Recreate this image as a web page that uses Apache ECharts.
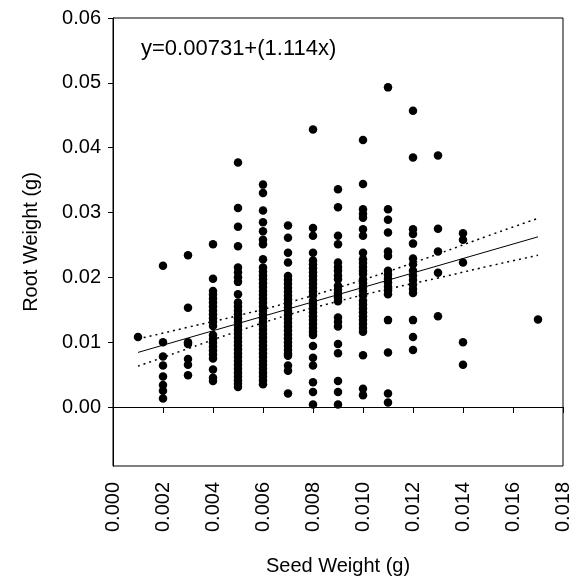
<!DOCTYPE html>
<html>
<head>
<meta charset="utf-8">
<script src="https://cdn.jsdelivr.net/npm/echarts@6/dist/echarts.min.js"></script>
<style>
html,body{margin:0;padding:0;background:#fff;}
#chart{width:576px;height:581px;}
</style>
</head>
<body>
<div id="chart"></div>
<script>
// Seed weight columns (x) and root weights observed (y)
const seedWeights = [0.001, 0.002, 0.003, 0.004, 0.005, 0.006, 0.007, 0.008, 0.009, 0.010, 0.011, 0.012, 0.013, 0.014, 0.017];

const rw001 = [0.0108];
const rw002 = [0.0218, 0.0100, 0.0078, 0.0064, 0.0047, 0.0034, 0.0025, 0.0013];
const rw003 = [0.0234, 0.0153, 0.0100, 0.0097, 0.0074, 0.0065, 0.0049];
const rw004 = [0.0251, 0.0198, 0.0179, 0.0173, 0.0167, 0.0161, 0.0155, 0.0149, 0.0143, 0.0137, 0.0131, 0.0125, 0.0111, 0.0105, 0.0099, 0.0093, 0.0087, 0.0081, 0.0075, 0.0058, 0.0045, 0.0040];
const rw005 = [0.0377, 0.0307, 0.0278, 0.0248, 0.0215, 0.0208, 0.0200, 0.0193, 0.0174, 0.0161, 0.0155, 0.0149, 0.0143, 0.0137, 0.0131, 0.0125, 0.0119, 0.0113, 0.0107, 0.0101, 0.0095, 0.0089, 0.0083, 0.0077, 0.0071, 0.0065, 0.0059, 0.0053, 0.0047, 0.0041, 0.0036, 0.0031];
const rw006 = [0.0343, 0.0330, 0.0303, 0.0285, 0.0271, 0.0258, 0.0251, 0.0228, 0.0215, 0.0209, 0.0203, 0.0197, 0.0191, 0.0185, 0.0179, 0.0173, 0.0167, 0.0161, 0.0155, 0.0149, 0.0143, 0.0137, 0.0131, 0.0125, 0.0119, 0.0113, 0.0107, 0.0101, 0.0095, 0.0089, 0.0083, 0.0077, 0.0071, 0.0065, 0.0059, 0.0053, 0.0047, 0.0041, 0.0035];
const rw007 = [0.0280, 0.0261, 0.0238, 0.0223, 0.0202, 0.0196, 0.0190, 0.0184, 0.0178, 0.0172, 0.0166, 0.0160, 0.0154, 0.0148, 0.0142, 0.0136, 0.0130, 0.0124, 0.0118, 0.0112, 0.0106, 0.0100, 0.0094, 0.0088, 0.0082, 0.0079, 0.0064, 0.0056, 0.0021];
const rw008 = [0.0428, 0.0276, 0.0264, 0.0238, 0.0226, 0.0220, 0.0214, 0.0208, 0.0202, 0.0196, 0.0190, 0.0184, 0.0178, 0.0172, 0.0164, 0.0158, 0.0152, 0.0146, 0.0140, 0.0134, 0.0128, 0.0122, 0.0116, 0.0111, 0.0094, 0.0076, 0.0064, 0.0038, 0.0023, 0.0004];
const rw009 = [0.0336, 0.0308, 0.0264, 0.0251, 0.0223, 0.0216, 0.0210, 0.0203, 0.0197, 0.0187, 0.0181, 0.0175, 0.0169, 0.0163, 0.0138, 0.0131, 0.0124, 0.0097, 0.0083, 0.0040, 0.0023, 0.0004];
const rw010 = [0.0412, 0.0344, 0.0305, 0.0298, 0.0292, 0.0274, 0.0264, 0.0238, 0.0228, 0.0222, 0.0216, 0.0210, 0.0205, 0.0197, 0.0191, 0.0185, 0.0179, 0.0172, 0.0164, 0.0158, 0.0152, 0.0146, 0.0140, 0.0134, 0.0128, 0.0122, 0.0116, 0.0080, 0.0028, 0.0018];
const rw011 = [0.0493, 0.0305, 0.0289, 0.0269, 0.0240, 0.0233, 0.0210, 0.0204, 0.0198, 0.0192, 0.0186, 0.0180, 0.0174, 0.0134, 0.0084, 0.0021, 0.0007];
const rw012 = [0.0457, 0.0385, 0.0274, 0.0267, 0.0252, 0.0229, 0.0220, 0.0210, 0.0203, 0.0196, 0.0189, 0.0182, 0.0176, 0.0134, 0.0108, 0.0088];
const rw013 = [0.0388, 0.0275, 0.0240, 0.0207, 0.0140];
const rw014 = [0.0268, 0.0258, 0.0223, 0.0100, 0.0065];
const rw017 = [0.0135];

const rootWeightColumns = [rw001, rw002, rw003, rw004, rw005, rw006, rw007, rw008, rw009, rw010, rw011, rw012, rw013, rw014, rw017];

// Regression line y = 0.00731 + 1.114x, and its confidence band
const fitX = [0.001, 0.017];
const fitY = [0.00842, 0.02625];
const bandX = [0.001, 0.003, 0.005, 0.007, 0.009, 0.011, 0.013, 0.015, 0.017];
const bandUpper = [0.0105, 0.0123, 0.0141, 0.0161, 0.0184, 0.0209, 0.0236, 0.0264, 0.0291];
const bandLower = [0.0063, 0.0090, 0.0117, 0.0142, 0.0163, 0.0182, 0.0199, 0.0217, 0.0234];

const yTickValues = [0, 0.01, 0.02, 0.03, 0.04, 0.05, 0.06];
const equationText = 'y=0.00731+(1.114x)';

const scatterData = [];
seedWeights.forEach((x, i) => rootWeightColumns[i].forEach(y => scatterData.push([x, y])));
const zip = (a, b) => a.map((v, i) => [v, b[i]]);

const FONT = '"Liberation Sans", Arial, sans-serif';
const chart = echarts.init(document.getElementById('chart'), null, {renderer: 'canvas'});
chart.setOption({
  animation: false,
  backgroundColor: '#fff',
  grid: {left: 113, right: 13, top: 18, bottom: 114, show: true, borderColor: '#000', borderWidth: 1, backgroundColor: 'transparent'},
  xAxis: {
    type: 'value', min: 0, max: 0.018, interval: 0.002,
    name: 'Seed Weight (g)', nameLocation: 'middle', nameGap: 90,
    nameTextStyle: {color: '#000', fontSize: 20, fontFamily: FONT},
    axisLine: {show: true, lineStyle: {color: '#000', width: 1}},
    axisTick: {show: true, inside: false, length: 6, lineStyle: {color: '#000'}},
    axisLabel: {rotate: 90, margin: 16, color: '#000', fontSize: 20, fontFamily: FONT, formatter: v => v.toFixed(3)},
    splitLine: {show: false}
  },
  yAxis: {
    type: 'value', min: -0.0091, max: 0.06,
    name: 'Root Weight (g)', nameLocation: 'middle', nameGap: 72, nameRotate: 90,
    nameTextStyle: {color: '#000', fontSize: 20, fontFamily: FONT},
    axisLine: {show: true, lineStyle: {color: '#000', width: 1}},
    axisTick: {show: true, inside: false, length: 5, lineStyle: {color: '#000'}, customValues: yTickValues},
    axisLabel: {margin: 12, color: '#000', fontSize: 20, fontFamily: FONT, customValues: yTickValues, formatter: v => v.toFixed(2)},
    splitLine: {show: false}
  },
  graphic: [{
    type: 'text', left: 141, top: 38,
    style: {text: equationText, fill: '#000', font: '22px "Liberation Sans", Arial, sans-serif'}
  }],
  series: [
    {type: 'scatter', data: scatterData, symbol: 'circle', symbolSize: 8.5, itemStyle: {color: '#000', opacity: 1}, z: 3},
    {type: 'line', data: zip(fitX, fitY), showSymbol: false, lineStyle: {color: '#000', width: 1}, z: 4},
    {type: 'line', data: zip(bandX, bandUpper), smooth: true, showSymbol: false, lineStyle: {color: '#000', width: 1.5, type: [2, 4]}, z: 4},
    {type: 'line', data: zip(bandX, bandLower), smooth: true, showSymbol: false, lineStyle: {color: '#000', width: 1.5, type: [2, 4]}, z: 4}
  ]
});
</script>
</body>
</html>
